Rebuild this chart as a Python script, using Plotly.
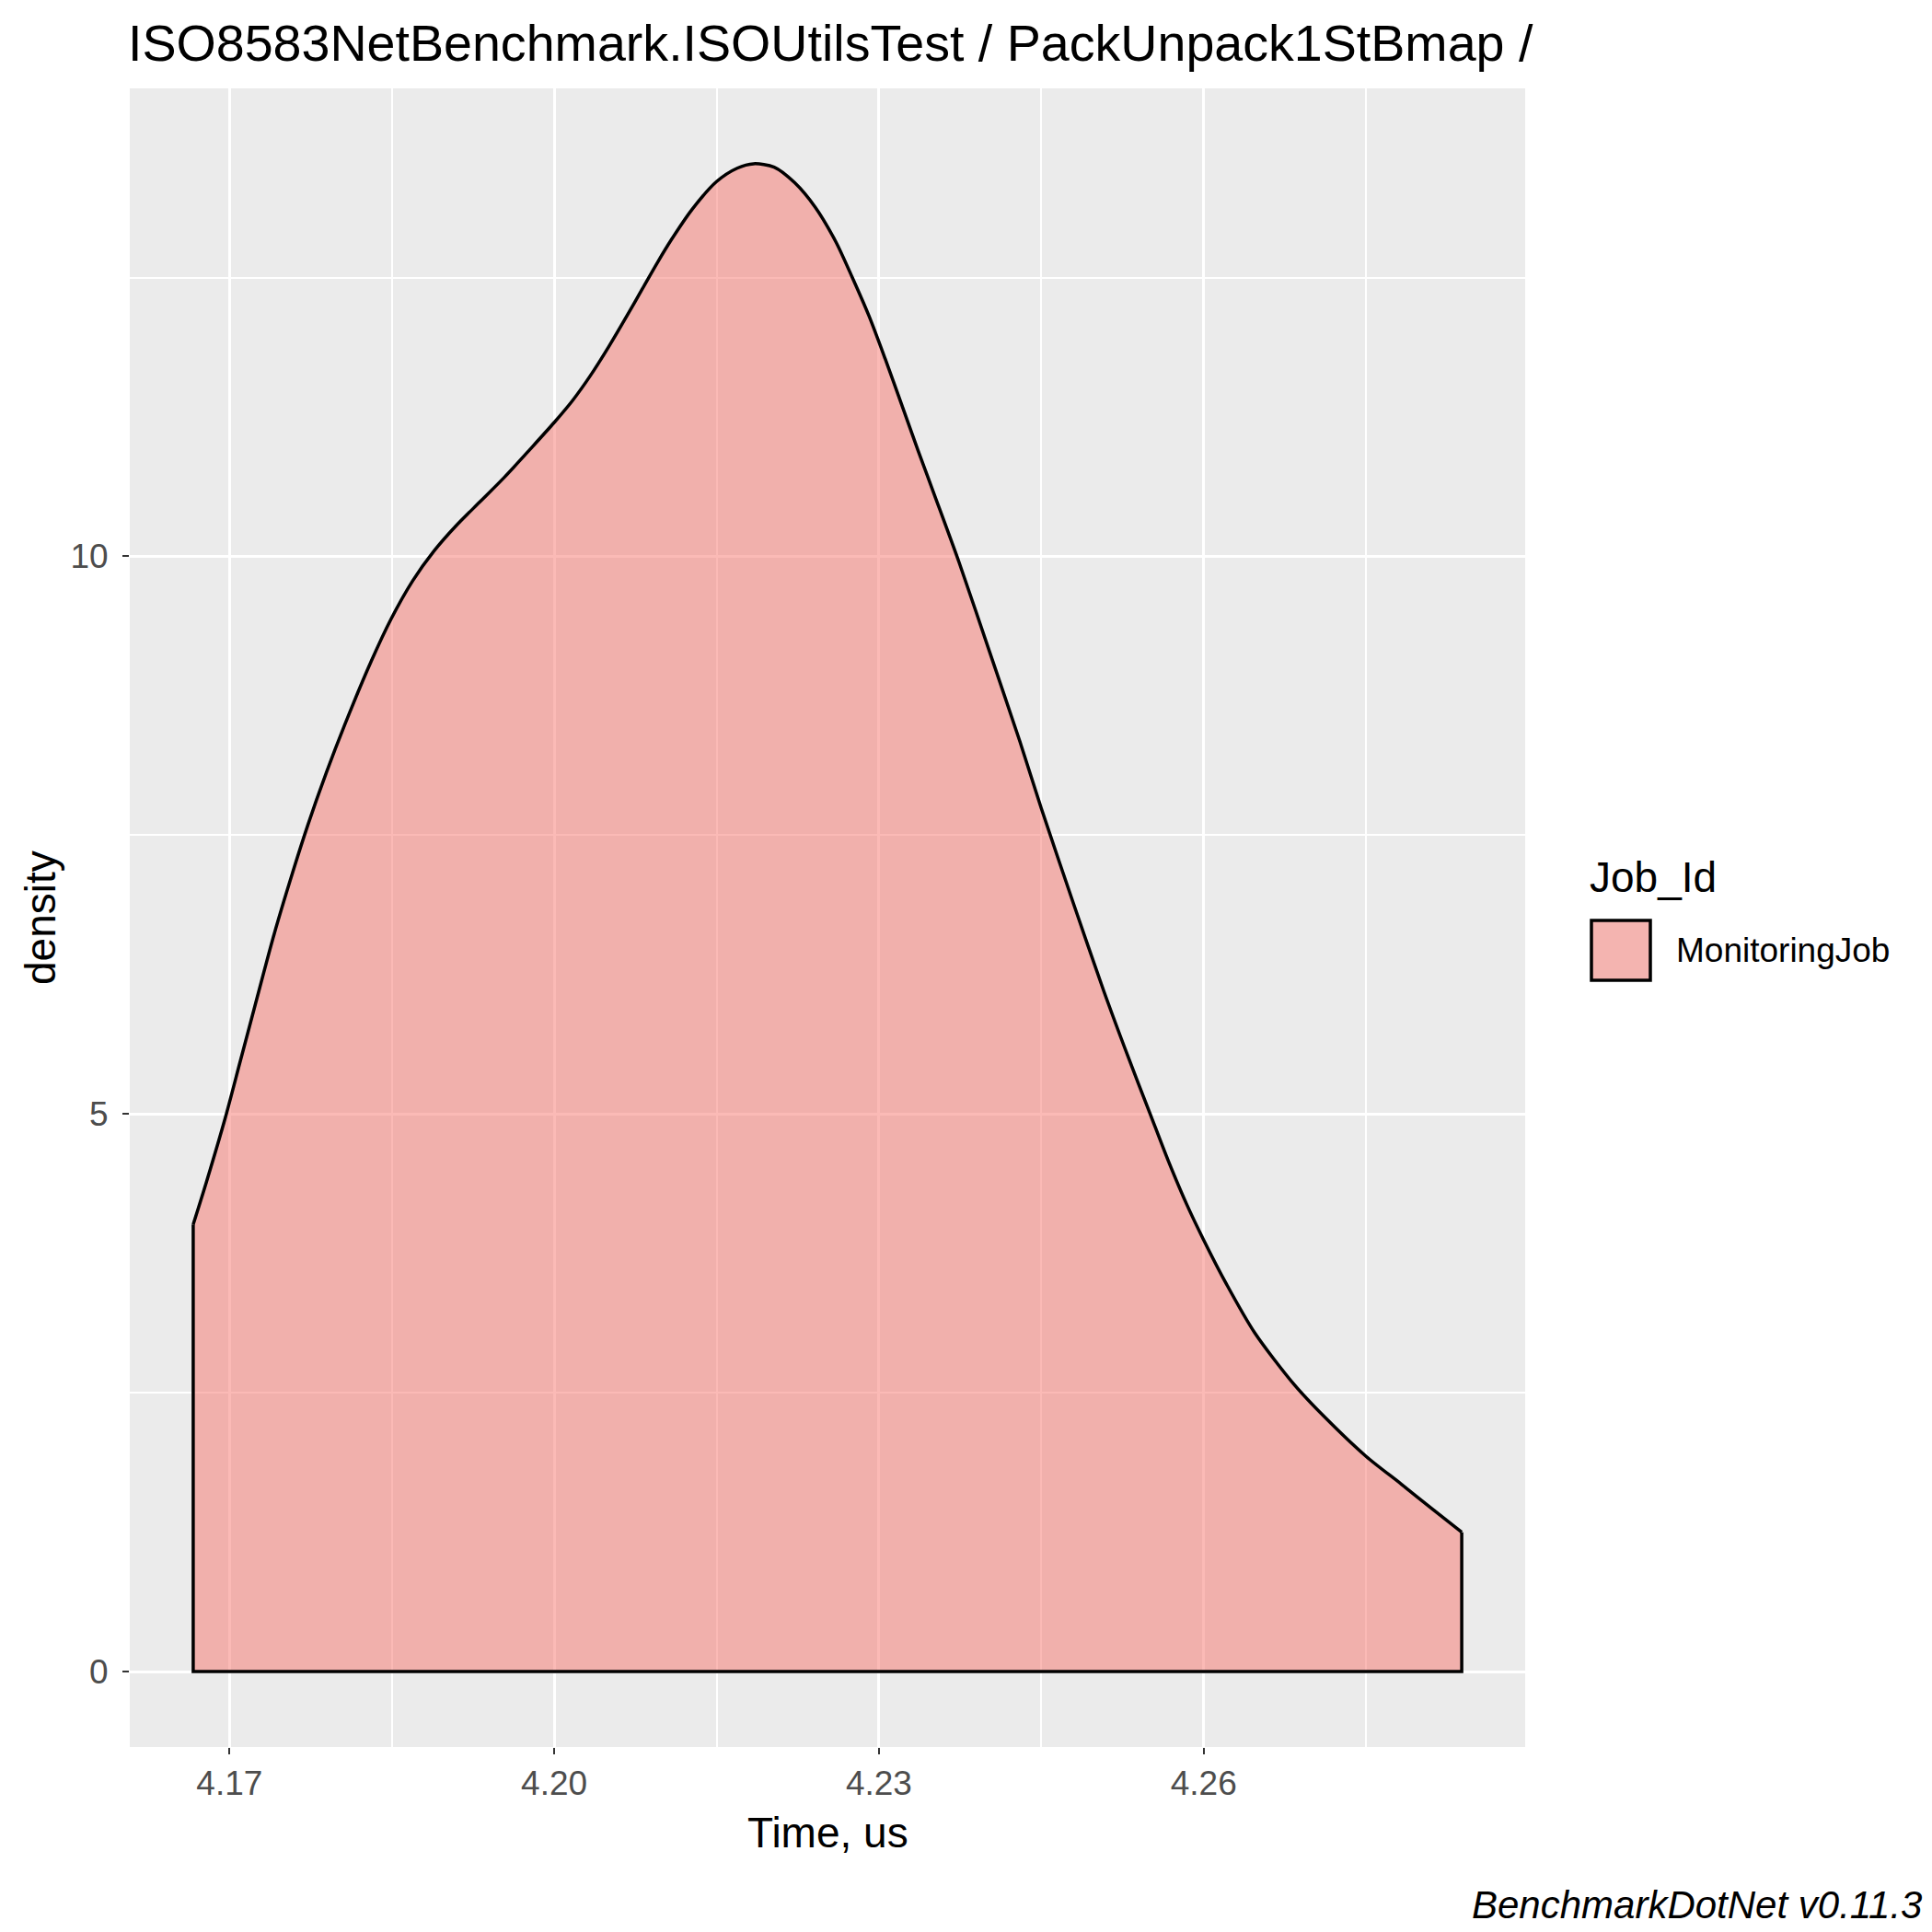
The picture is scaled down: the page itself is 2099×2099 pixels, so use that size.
import plotly.graph_objects as go

# density estimate (Time, us vs density)
time_us = [4.16665, 4.16787, 4.16957, 4.17099, 4.17241, 4.17412, 4.17582, 4.17724,
           4.17895, 4.18065, 4.18310, 4.18494, 4.18692, 4.18891, 4.19089, 4.19315,
           4.19541, 4.19768, 4.20000, 4.20164, 4.20334, 4.20504, 4.20674, 4.20815,
           4.20957, 4.21083, 4.21273, 4.21500, 4.21690, 4.21842, 4.22032, 4.22222,
           4.22412, 4.22602, 4.22754, 4.22906, 4.23058, 4.23210, 4.23361, 4.23513,
           4.23739, 4.24020, 4.24302, 4.24500, 4.24796, 4.25078, 4.25303, 4.25502,
           4.25673, 4.25843, 4.26000, 4.26213, 4.26470, 4.26839, 4.27120, 4.27500,
           4.27827, 4.28109, 4.28384]
density = [4.01, 4.39, 4.95, 5.47, 5.99, 6.61, 7.16, 7.59,
           8.06, 8.49, 9.06, 9.44, 9.78, 10.05, 10.27, 10.49,
           10.71, 10.95, 11.20, 11.39, 11.62, 11.88, 12.16, 12.40,
           12.64, 12.84, 13.11, 13.36, 13.48, 13.52, 13.49, 13.35,
           13.13, 12.82, 12.50, 12.16, 11.77, 11.36, 10.95, 10.55,
           9.95, 9.15, 8.34, 7.74, 6.89, 6.10, 5.51, 5.01,
           4.58, 4.19, 3.87, 3.47, 3.04, 2.57, 2.28, 1.93,
           1.68, 1.46, 1.25]

job_id = 'MonitoringJob'
x_ticks = [4.17, 4.20, 4.23, 4.26]
y_ticks = [0, 5, 10]

# page has an 8px body margin, so the figure starts at (8, 8)
OFF = 8
W, H = 2099 - OFF, 2099 - OFF
L, R, T, B = 141 - OFF, 442, 96 - OFF, 201
pw, ph = W - L - R, H - T - B

def px(x):
    return (x - OFF - L) / pw

def py(y):
    return (H - B - (y - OFF)) / ph

FONT = 'Liberation Sans, Arial, sans-serif'
FILL = 'rgba(248,118,109,0.5)'
LW = 3.5

xspan = max(time_us) - min(time_us)
yspan = max(density)

fig = go.Figure()
# filled area
fig.add_trace(go.Scatter(x=[time_us[0]] + time_us + [time_us[-1], time_us[0]],
                         y=[0] + density + [0, 0], mode='lines', fill='toself',
                         fillcolor=FILL, line=dict(width=0), showlegend=False, hoverinfo='skip'))
# the density curve
fig.add_trace(go.Scatter(x=time_us, y=density, mode='lines',
                         line=dict(color='black', width=LW, shape='spline', smoothing=0.8),
                         name=job_id, showlegend=False, hoverinfo='skip'))
# sides and baseline of the outline
fig.add_trace(go.Scatter(x=[time_us[0], time_us[0], time_us[-1], time_us[-1]],
                         y=[density[0], 0, 0, density[-1]], mode='lines',
                         line=dict(color='black', width=LW), showlegend=False, hoverinfo='skip'))

fig.update_layout(
    width=W, height=H,
    margin=dict(l=L, r=R, t=T, b=B),
    paper_bgcolor='white', plot_bgcolor='#EBEBEB',
    font=dict(family=FONT, color='black'),
    xaxis=dict(range=[min(time_us) - 0.05 * xspan, max(time_us) + 0.05 * xspan],
               tickvals=x_ticks, tickformat='.2f', showline=False, zeroline=False,
               gridcolor='white', gridwidth=3,
               minor=dict(dtick=0.015, tick0=4.17, showgrid=True, gridcolor='white', gridwidth=1.5),
               ticks='outside', ticklen=7, tickwidth=2, tickcolor='#333333',
               tickfont=dict(size=37, color='#4D4D4D', family=FONT)),
    yaxis=dict(range=[-0.05 * yspan, 1.05 * yspan],
               tickvals=y_ticks, showline=False, zeroline=False,
               gridcolor='white', gridwidth=3,
               minor=dict(dtick=2.5, tick0=0, showgrid=True, gridcolor='white', gridwidth=1.5),
               ticks='outside', ticklen=7, tickwidth=2, tickcolor='#333333',
               ticklabelstandoff=8,
               tickfont=dict(size=37, color='#4D4D4D', family=FONT)),
)

ann = [
    dict(text='ISO8583NetBenchmark.ISOUtilsTest / PackUnpack1StBmap /', x=px(137), y=py(47),
         xanchor='left', yanchor='middle', font=dict(size=55.6)),
    dict(text='Time, us', x=0.5, y=py(1991), xanchor='center', yanchor='middle', font=dict(size=46)),
    dict(text='density', x=px(44), y=0.5, textangle=-90, xanchor='center', yanchor='middle',
         font=dict(size=46)),
    dict(text='Job_Id', x=px(1725), y=py(953), xanchor='left', yanchor='middle', font=dict(size=46)),
    dict(text=job_id, x=px(1819), y=py(1032), xanchor='left', yanchor='middle', font=dict(size=37)),
    dict(text='<i>BenchmarkDotNet v0.11.3</i>', x=px(2090), y=py(2069), xanchor='right',
         yanchor='middle', font=dict(size=42)),
]
for a in ann:
    fig.add_annotation(xref='paper', yref='paper', showarrow=False, **a)

fig.add_shape(type='rect', xref='paper', yref='paper',
              x0=px(1729), x1=px(1793), y0=py(1065), y1=py(1000),
              fillcolor='#F4B4B0', line=dict(color='black', width=3.5))

fig.write_html('out.html')
